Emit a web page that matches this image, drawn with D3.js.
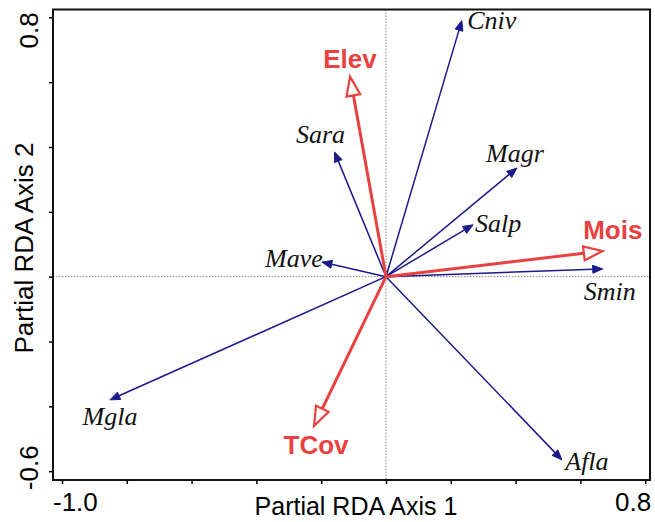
<!DOCTYPE html>
<html>
<head>
<meta charset="utf-8">
<script src="https://cdn.jsdelivr.net/npm/d3@7"></script>
<style>
  body { margin: 0; background: #fff; }
  svg { display: block; }
</style>
</head>
<body>
<svg id="canvas" width="655" height="522"></svg>
<script>
// ---- data ----
var species   = ['Cniv', 'Sara', 'Magr', 'Salp', 'Mave', 'Smin', 'Mgla', 'Afla'];
var species_x = [0.234, -0.159, 0.404, 0.269, -0.198, 0.669, -0.852, 0.543];
var species_y = [0.790, 0.385, 0.335, 0.160, 0.045, 0.024, -0.380, -0.565];

var env   = ['Elev', 'Mois', 'TCov'];
var env_x = [-0.111, 0.669, -0.222];
var env_y = [0.617, 0.079, -0.460];

var x_ticks = [-1.0, -0.8, -0.6, -0.4, -0.2, 0, 0.2, 0.4, 0.6, 0.8];
var y_ticks = [-0.6, -0.4, -0.2, 0, 0.2, 0.4, 0.6, 0.8];
var x_labels = ['-1.0', '0.8'];
var y_labels = ['-0.6', '0.8'];

// ---- layout ----
var svg = d3.select('#canvas');
var box = { left: 53, right: 650, top: 9.5, bottom: 480 };
var navy = '#1a1a8a', red = '#e8413f';

var xScale = d3.scaleLinear().domain([-1.0, 0.8]).range([62, 645.2]);
var yScale = d3.scaleLinear().domain([-0.6, 0.8]).range([471.2, 17.3]);

// zero lines
svg.append('line')
  .attr('x1', box.left).attr('x2', box.right)
  .attr('y1', yScale(0)).attr('y2', yScale(0))
  .attr('stroke', '#888').attr('stroke-width', 1).attr('stroke-dasharray', '1.5,1.5');
svg.append('line')
  .attr('x1', xScale(0)).attr('x2', xScale(0))
  .attr('y1', box.top).attr('y2', box.bottom)
  .attr('stroke', '#888').attr('stroke-width', 1).attr('stroke-dasharray', '1.5,1.5');

// axes (ticks only, frame drawn as rect)
svg.append('g').attr('transform', 'translate(0,' + box.bottom + ')')
  .call(d3.axisBottom(xScale).tickValues(x_ticks).tickSize(4).tickFormat(''));
svg.append('g').attr('transform', 'translate(' + box.left + ',0)')
  .call(d3.axisLeft(yScale).tickValues(y_ticks).tickSize(4).tickFormat(''));
svg.selectAll('.domain').remove();
svg.selectAll('.tick line').attr('stroke', '#000').attr('stroke-width', 1.5);

svg.append('rect')
  .attr('x', box.left).attr('y', box.top)
  .attr('width', box.right - box.left).attr('height', box.bottom - box.top)
  .attr('fill', 'none').attr('stroke', '#111').attr('stroke-width', 2);

// tick labels at the ends
var font = 'Liberation Sans, Arial, sans-serif';
svg.append('text').text(x_labels[0])
  .attr('x', xScale(-1.0) - 9).attr('y', 511)
  .attr('font-family', font).attr('font-size', 26).attr('text-anchor', 'start');
svg.append('text').text(x_labels[1])
  .attr('x', xScale(0.8) + 6).attr('y', 511)
  .attr('font-family', font).attr('font-size', 26).attr('text-anchor', 'end');
svg.append('text').text(y_labels[0])
  .attr('transform', 'translate(38,' + (yScale(-0.6) + 19) + ') rotate(-90)')
  .attr('font-family', font).attr('font-size', 26).attr('text-anchor', 'start');
svg.append('text').text(y_labels[1])
  .attr('transform', 'translate(38,' + (yScale(0.8) - 5) + ') rotate(-90)')
  .attr('font-family', font).attr('font-size', 26).attr('text-anchor', 'end');

// axis titles
svg.append('text').text('Partial RDA Axis 1')
  .attr('x', 356).attr('y', 515)
  .attr('font-family', font).attr('font-size', 25).attr('text-anchor', 'middle');
svg.append('text').text('Partial RDA Axis 2')
  .attr('transform', 'translate(33,248) rotate(-90)')
  .attr('font-family', font).attr('font-size', 26).attr('text-anchor', 'middle');

// ---- arrows ----
var ox = xScale(0), oy = yScale(0);

function arrow(tx, ty, len, half, line_w, color, open) {
  var dx = tx - ox, dy = ty - oy, L = Math.sqrt(dx*dx + dy*dy);
  var ux = dx / L, uy = dy / L;
  var bx = tx - ux*len, by = ty - uy*len;
  svg.append('line')
    .attr('x1', ox).attr('y1', oy).attr('x2', bx).attr('y2', by)
    .attr('stroke', color).attr('stroke-width', line_w);
  var pts = [[tx, ty], [bx - uy*half, by + ux*half], [bx + uy*half, by - ux*half]];
  svg.append('polygon')
    .attr('points', pts.map(p => p.join(',')).join(' '))
    .attr('fill', open ? '#fff' : color)
    .attr('stroke', color).attr('stroke-width', open ? 2.2 : 1)
    .attr('stroke-linejoin', 'miter');
}

// label offsets (px) from the arrow tip
var sp_off = { Cniv: [30, 0], Sara: [-14, -17], Magr: [-2, -15], Salp: [25, -1],
  Mave: [-28, -4], Smin: [7, 23], Mgla: [0, 17], Afla: [25, 2] };
var env_off = { Elev: [0, -18], Mois: [10, -21], TCov: [2, 19] };

species.forEach(function(name, i) {
  var tx = xScale(species_x[i]), ty = yScale(species_y[i]);
  arrow(tx, ty, 10, 4, 1.5, navy, false);
  svg.append('text').text(name)
    .attr('x', tx + sp_off[name][0]).attr('y', ty + sp_off[name][1])
    .attr('dominant-baseline', 'central').attr('text-anchor', 'middle')
    .attr('font-family', 'Liberation Serif, Times New Roman, serif')
    .attr('font-style', 'italic').attr('font-size', 26).attr('fill', '#111');
});

env.forEach(function(name, i) {
  var tx = xScale(env_x[i]), ty = yScale(env_y[i]);
  arrow(tx, ty, 19, 7, 3, red, true);
  svg.append('text').text(name)
    .attr('x', tx + env_off[name][0]).attr('y', ty + env_off[name][1])
    .attr('dominant-baseline', 'central').attr('text-anchor', 'middle')
    .attr('font-family', font).attr('font-weight', 'bold')
    .attr('font-size', 26).attr('fill', red);
});
</script>
</body>
</html>
